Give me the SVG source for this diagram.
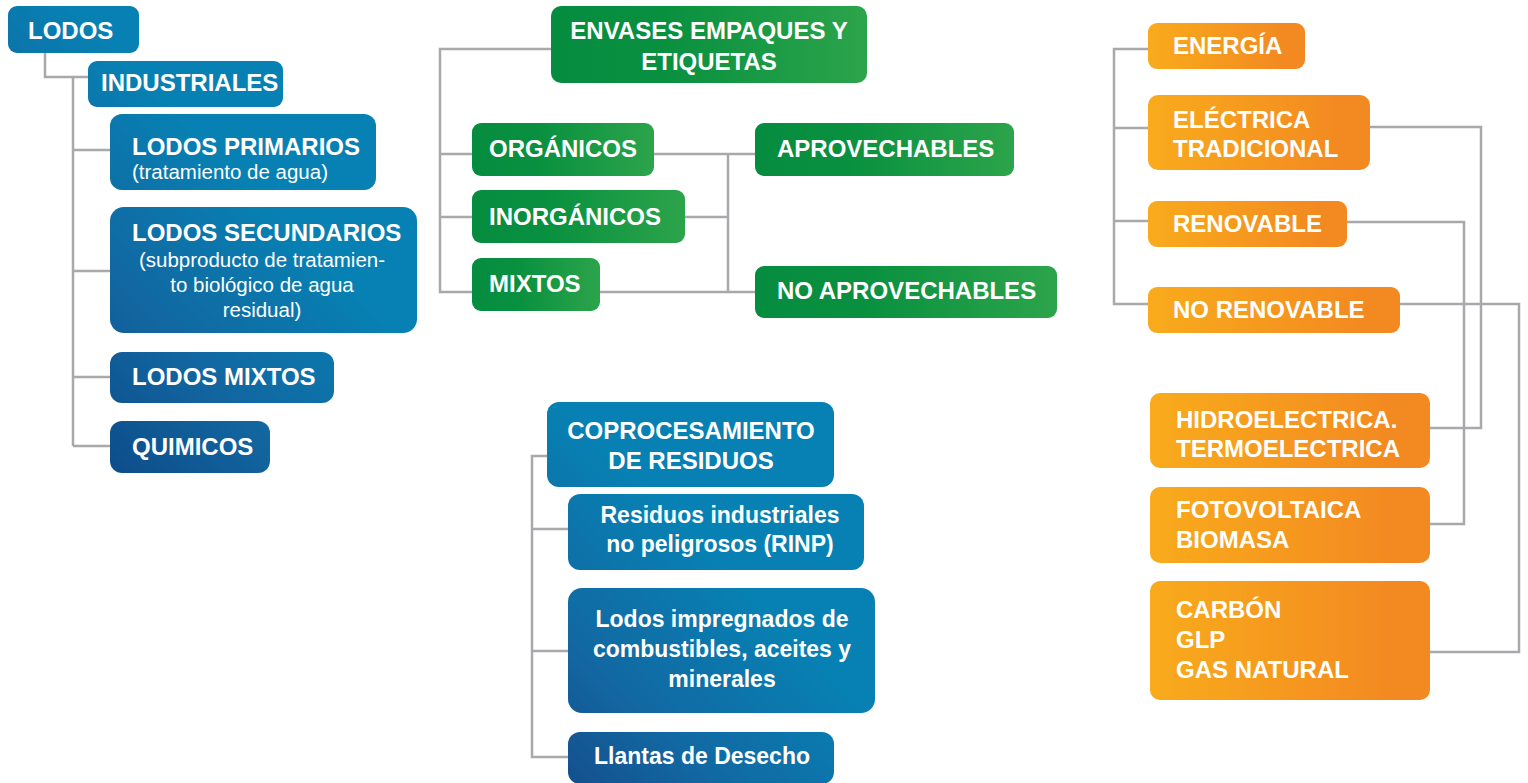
<svg xmlns="http://www.w3.org/2000/svg" width="1528" height="783" viewBox="0 0 1528 783">
<style>
text{font-family:"Liberation Sans",Arial,sans-serif;fill:#fff}
.t{font-size:24px;font-weight:bold}
.c{font-size:23px;font-weight:bold;text-anchor:middle}
.s{font-size:20.5px}
.m{text-anchor:middle}
.ln{fill:none;stroke:#A7A9AC;stroke-width:2.5}
</style>
<defs>
<linearGradient id="gBlue" gradientUnits="userSpaceOnUse" x1="110" y1="480" x2="330" y2="260">
<stop offset="0" stop-color="#0C4C8A"/><stop offset="0.45" stop-color="#1266A0"/><stop offset="1" stop-color="#0781B3"/>
</linearGradient>
<linearGradient id="gCopro" gradientUnits="userSpaceOnUse" x1="570" y1="790" x2="760" y2="600">
<stop offset="0" stop-color="#144F8D"/><stop offset="0.4" stop-color="#1268A2"/><stop offset="1" stop-color="#0781B3"/>
</linearGradient>
<linearGradient id="gGreen" x1="0" y1="0" x2="1" y2="0">
<stop offset="0" stop-color="#068C3F"/><stop offset="0.35" stop-color="#08903F"/><stop offset="1" stop-color="#2CA44B"/>
</linearGradient>
<linearGradient id="gOrange" x1="0" y1="0" x2="1" y2="0">
<stop offset="0" stop-color="#F9AB1C"/><stop offset="0.85" stop-color="#F38A21"/><stop offset="1" stop-color="#F38A21"/>
</linearGradient>
</defs>

<g id="connectors">
<path class="ln" d="M45 53 V77 H88"/>
<path class="ln" d="M73 77 V446"/>
<path class="ln" d="M73 150 H110 M73 271 H110 M73 377 H110 M73 446 H110"/>
<path class="ln" d="M551 49 H440 V292 H472 M440 154 H472 M440 217 H472"/>
<path class="ln" d="M654 154 H755 M685 217 H728 M600 292 H755 M728 154 V292"/>
<path class="ln" d="M1148 49 H1114 V304 H1148 M1114 128 H1148 M1114 221 H1148"/>
<path class="ln" d="M1370 127 H1481 V428 H1430"/>
<path class="ln" d="M1347 222 H1464 V524 H1430"/>
<path class="ln" d="M1400 304 H1519 V652 H1430"/>
<path class="ln" d="M547 456 H532 V757 H568 M532 529 H568 M532 651 H568"/>
</g>

<g id="lodos"><rect x="8" y="6" width="131" height="47" rx="9" fill="url(#gBlue)"/><text class="t" x="28" y="39">LODOS</text></g>
<g id="industriales"><rect x="88" y="61" width="195" height="46" rx="9" fill="url(#gBlue)"/><text class="t" x="101" y="91">INDUSTRIALES</text></g>
<g id="lodos-primarios"><rect x="110" y="114" width="266" height="76" rx="12" fill="url(#gBlue)"/><text class="t" x="132" y="155">LODOS PRIMARIOS</text><text class="s" x="132" y="179">(tratamiento de agua)</text></g>
<g id="lodos-secundarios"><rect x="110" y="207" width="307" height="126" rx="14" fill="url(#gBlue)"/><text class="t" x="132" y="241">LODOS SECUNDARIOS</text>
<text class="s m" x="262" y="267">(subproducto de tratamien-</text><text class="s m" x="262" y="292">to biológico de agua</text><text class="s m" x="262" y="317">residual)</text></g>
<g id="lodos-mixtos"><rect x="110" y="352" width="224" height="51" rx="12" fill="url(#gBlue)"/><text class="t" x="132" y="385">LODOS MIXTOS</text></g>
<g id="quimicos"><rect x="110" y="421" width="160" height="52" rx="12" fill="url(#gBlue)"/><text class="t" x="132" y="455">QUIMICOS</text></g>

<g id="envases"><rect x="551" y="6" width="316" height="77" rx="10" fill="url(#gGreen)"/><text class="t m" x="709" y="39">ENVASES EMPAQUES Y</text><text class="t m" x="709" y="70">ETIQUETAS</text></g>
<g id="organicos"><rect x="472" y="123" width="182" height="53" rx="9" fill="url(#gGreen)"/><text class="t" x="489" y="157">ORGÁNICOS</text></g>
<g id="inorganicos"><rect x="472" y="190" width="213" height="53" rx="9" fill="url(#gGreen)"/><text class="t" x="489" y="225">INORGÁNICOS</text></g>
<g id="mixtos"><rect x="472" y="258" width="128" height="53" rx="9" fill="url(#gGreen)"/><text class="t" x="489" y="292">MIXTOS</text></g>
<g id="aprovechables"><rect x="755" y="123" width="259" height="53" rx="9" fill="url(#gGreen)"/><text class="t" x="777" y="157">APROVECHABLES</text></g>
<g id="no-aprovechables"><rect x="755" y="266" width="302" height="52" rx="9" fill="url(#gGreen)"/><text class="t" x="777" y="299">NO APROVECHABLES</text></g>

<g id="energia"><rect x="1148" y="23" width="157" height="46" rx="9" fill="url(#gOrange)"/><text class="t" x="1173" y="54">ENERGÍA</text></g>
<g id="electrica"><rect x="1148" y="95" width="222" height="75" rx="10" fill="url(#gOrange)"/><text class="t" x="1173" y="128">ELÉCTRICA</text><text class="t" x="1173" y="157">TRADICIONAL</text></g>
<g id="renovable"><rect x="1148" y="201" width="199" height="46" rx="9" fill="url(#gOrange)"/><text class="t" x="1173" y="232">RENOVABLE</text></g>
<g id="no-renovable"><rect x="1148" y="287" width="252" height="46" rx="9" fill="url(#gOrange)"/><text class="t" x="1173" y="318">NO RENOVABLE</text></g>
<g id="hidro"><rect x="1150" y="393" width="280" height="75" rx="10" fill="url(#gOrange)"/><text class="t" x="1176" y="428">HIDROELECTRICA.</text><text class="t" x="1176" y="457">TERMOELECTRICA</text></g>
<g id="fotovoltaica"><rect x="1150" y="487" width="280" height="76" rx="10" fill="url(#gOrange)"/><text class="t" x="1176" y="518">FOTOVOLTAICA</text><text class="t" x="1176" y="548">BIOMASA</text></g>
<g id="carbon"><rect x="1150" y="581" width="280" height="119" rx="10" fill="url(#gOrange)"/><text class="t" x="1176" y="618">CARBÓN</text><text class="t" x="1176" y="648">GLP</text><text class="t" x="1176" y="678">GAS NATURAL</text></g>

<g id="coprocesamiento"><rect x="547" y="402" width="287" height="85" rx="12" fill="url(#gCopro)"/><text class="t m" x="691" y="439">COPROCESAMIENTO</text><text class="t m" x="691" y="469">DE RESIDUOS</text></g>
<g id="rinp"><rect x="568" y="494" width="296" height="76" rx="12" fill="url(#gCopro)"/><text class="c" x="720" y="523">Residuos industriales</text><text class="c" x="720" y="552">no peligrosos (RINP)</text></g>
<g id="lodos-impregnados"><rect x="568" y="588" width="307" height="125" rx="14" fill="url(#gCopro)"/><text class="c" x="722" y="627">Lodos impregnados de</text><text class="c" x="722" y="657">combustibles, aceites y</text><text class="c" x="722" y="687">minerales</text></g>
<g id="llantas"><rect x="568" y="732" width="266" height="52" rx="12" fill="url(#gCopro)"/><text class="c" x="702" y="764">Llantas de Desecho</text></g>
</svg>
